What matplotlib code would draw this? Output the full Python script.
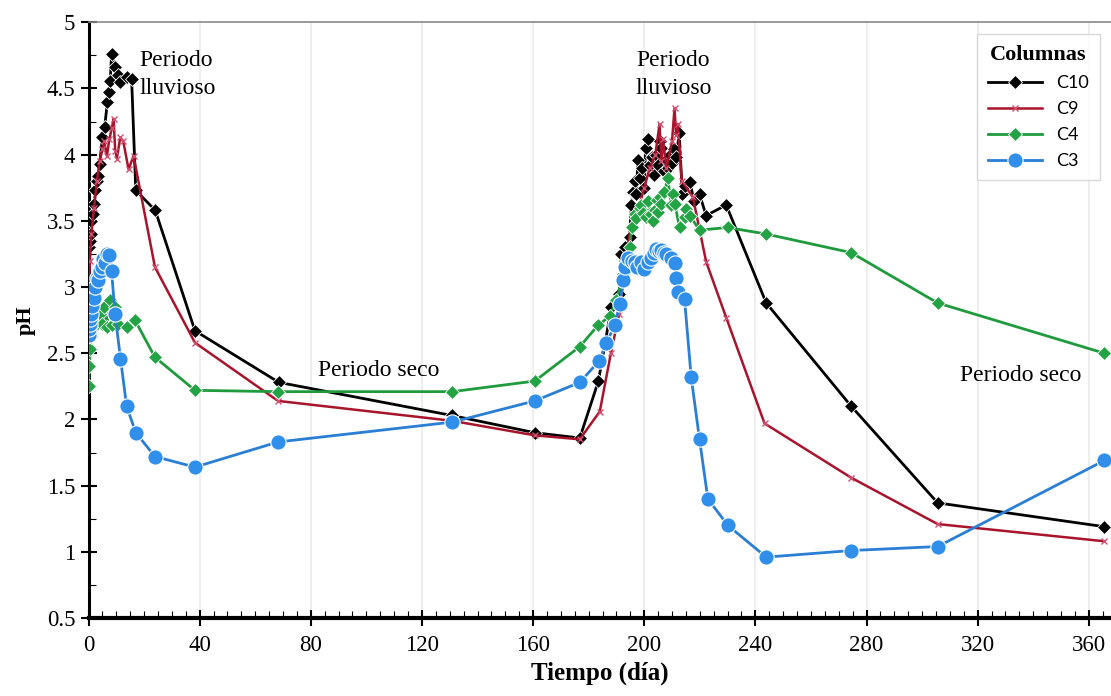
import matplotlib
matplotlib.use("Agg")
import matplotlib.pyplot as plt
from matplotlib.ticker import MultipleLocator, FuncFormatter

# ---------------- data ----------------
c10_day = [0, 0.3, 0.5, 0.8, 1.0, 1.5, 2.0, 2.5, 3.0, 3.5, 4.0, 5.0, 5.8, 6.8, 7.2, 7.8, 8.3, 9.5,
           10.5, 11.3, 13.7, 15.5, 17.0, 24.0, 38.3, 68.5, 130.8, 160.6, 176.8, 183.5, 188.2, 191.0,
           191.8, 193.0, 194.7, 195.4, 196.0, 196.6, 197.2, 197.7, 198.5, 199.3, 200.0, 200.5, 201.3,
           202.0, 202.7, 203.4, 204.2, 204.9, 205.5, 206.2, 207.0, 207.8, 208.5, 209.2, 210.0, 210.8,
           211.5, 212.6, 213.7, 214.5, 216.4, 218.0, 219.9, 222.3, 229.5, 243.9, 274.5, 305.6, 365.6]
c10_ph = [2.98, 3.30, 3.35, 3.40, 3.50, 3.55, 3.63, 3.73, 3.80, 3.84, 3.93, 4.13, 4.21, 4.40, 4.47, 4.56,
          4.76, 4.66, 4.60, 4.55, 4.59, 4.57, 3.73, 3.58, 2.67, 2.28, 2.03, 1.90, 1.86, 2.29, 2.85, 2.95,
          3.25, 3.30, 3.38, 3.62, 3.72, 3.80, 3.70, 3.96, 3.82, 3.90, 3.75, 4.05, 4.12,
          3.92, 3.98, 3.85, 4.00, 3.92, 4.10, 4.05, 3.88, 3.96, 3.90, 4.00, 3.94, 4.04,
          3.98, 4.16, 3.70, 3.76, 3.79, 3.65, 3.70, 3.54, 3.62, 2.88, 2.10, 1.37, 1.19]

c9_day = [0, 0.5, 1.0, 2.0, 3.0, 4.0, 5.0, 5.6, 6.6, 7.5, 8.4, 9.0, 9.6, 10.2, 11.4, 12.5, 14.4, 16.2,
          23.9, 38.3, 68.2, 130.8, 160.6, 176.8, 184.0, 188.0, 191.0, 194.0, 196.0, 198.0, 200.0,
          202.0, 204.0, 205.5, 206.2, 206.7, 208.0, 210.0, 210.9, 211.5, 212.1, 213.5, 217.5, 222.3,
          229.5, 243.3, 274.5, 305.6, 365.6]
c9_ph = [2.95, 3.20, 3.40, 3.60, 3.80, 3.95, 4.04, 4.10, 3.99, 4.12, 4.20, 4.27, 4.03, 3.97, 4.13, 4.10,
         3.89, 3.99, 3.15, 2.58, 2.14, 1.99, 1.88, 1.85, 2.06, 2.50, 2.80, 3.30, 3.55, 3.60, 3.75,
         3.90, 4.00, 4.23, 3.95, 4.12, 3.90, 4.10, 4.35, 4.15, 4.23, 3.80, 3.68, 3.19,
         2.77, 1.97, 1.56, 1.21, 1.08]

c4_day = [0, 0.3, 0.6, 1.0, 2.0, 3.0, 4.0, 4.7, 5.5, 6.5, 7.7, 8.3, 9.5, 10.5, 13.7, 16.7, 23.9, 38.3,
          68.2, 130.9, 160.6, 176.8, 183.3, 187.6, 190.0, 192.5, 194.8, 195.5, 196.5, 197.2, 198.3,
          199.0, 199.6, 200.8, 201.5, 202.3, 203.1, 203.7, 204.5, 205.0, 205.5, 206.2, 207.2, 208.5,
          209.7, 210.3, 211.0, 212.7, 214.5, 215.1, 216.4, 219.9, 230.0, 244.0, 274.5, 305.6, 365.6]
c4_ph = [2.25, 2.40, 2.53, 2.62, 2.70, 2.75, 2.80, 2.72, 2.85, 2.70, 2.90, 2.71, 2.85, 2.72, 2.70, 2.75,
         2.47, 2.22, 2.21, 2.21, 2.29, 2.55, 2.71, 2.78, 2.90, 3.10, 3.30, 3.45, 3.55, 3.52, 3.60,
         3.62, 3.56, 3.53, 3.65, 3.55, 3.50, 3.58, 3.66, 3.57, 3.68, 3.63, 3.72, 3.82,
         3.62, 3.70, 3.63, 3.45, 3.53, 3.59, 3.54, 3.43, 3.45, 3.40, 3.26, 2.88, 2.50]

c3_day = [0, 0.2, 0.4, 0.6, 0.8, 1.1, 1.5, 2.0, 2.5, 2.9, 3.5, 4.0, 4.7, 5.3, 6.0, 6.5, 7.3, 8.3, 9.5,
          11.5, 13.7, 17.0, 23.9, 38.3, 68.2, 130.9, 160.6, 176.8, 183.7, 186.4, 189.4, 191.2, 192.5,
          193.0, 194.2, 195.5, 196.5, 197.5, 199.0, 200.0, 201.3, 202.5, 203.5, 204.4, 205.3, 206.2,
          207.0, 208.0, 209.5, 211.0, 211.5, 212.1, 214.5, 216.9, 219.9, 222.9, 230.1, 243.9, 274.5,
          305.6, 365.6]
c3_ph = [2.64, 2.68, 2.72, 2.76, 2.80, 2.86, 2.95, 2.92, 3.00, 3.07, 3.05, 3.12, 3.15, 3.21, 3.18, 3.25,
         3.24, 3.12, 2.80, 2.46, 2.10, 1.90, 1.72, 1.64, 1.83, 1.98, 2.14, 2.28, 2.44, 2.58, 2.71, 2.87,
         3.05, 3.15, 3.22, 3.20, 3.19, 3.15, 3.19, 3.14, 3.19, 3.22, 3.26, 3.29, 3.27, 3.28,
         3.26, 3.25, 3.22, 3.18, 3.07, 2.96, 2.91, 2.32, 1.85, 1.40, 1.20, 0.96, 1.01,
         1.04, 1.69]

x_ticks = [0, 40, 80, 120, 160, 200, 240, 280, 320, 360]
y_ticks = [0.5, 1, 1.5, 2, 2.5, 3, 3.5, 4, 4.5, 5]

# ---------------- figure ----------------
plt.rcParams['font.family'] = ['Liberation Serif', 'DejaVu Serif']
fig = plt.figure(figsize=(11.11, 6.96), dpi=100)
ax = fig.add_axes([0.0797, 0.112, 0.9203, 0.856])

ax.plot(c10_day, c10_ph, color='black', lw=2, marker='D', ms=7.5, mfc='black', mec='white',
        mew=0.6, label='C10', zorder=3)
ax.plot(c9_day, c9_ph, color='#a8142c', lw=1.8, marker='x', ms=5, mec='#d05070', mew=1.0,
        label='C9', zorder=4)
ax.plot(c4_day, c4_ph, color='#1f9a3c', lw=2, marker='D', ms=7.5, mfc='#22a444', mec='white',
        mew=0.6, label='C4', zorder=5)
ax.plot(c3_day, c3_ph, color='#2a7fd4', lw=2, marker='o', ms=11, mfc='#2f8fea', mec='white',
        mew=0.8, label='C3', zorder=6)

ax.set_xlim(0, 368)
ax.set_ylim(0.5, 5)
ax.set_xticks(x_ticks)
ax.set_yticks(y_ticks)
ax.yaxis.set_major_formatter(FuncFormatter(lambda v, p: '%g' % v))
ax.xaxis.set_minor_locator(MultipleLocator(5))
ax.yaxis.set_minor_locator(MultipleLocator(0.25))
ax.tick_params(axis='both', which='major', direction='inout', length=12, width=1.5,
               labelsize=16.5, colors='black')
ax.tick_params(axis='both', which='minor', direction='in', length=5, width=0.8)
ax.tick_params(axis='x', which='major', pad=6)

ax.grid(axis='x', which='major', color='#ebebeb', lw=1.2)
ax.set_axisbelow(True)

ax.spines['right'].set_visible(False)
ax.spines['top'].set_color('#8a8a8a')
ax.spines['top'].set_linewidth(1.2)
ax.spines['left'].set_linewidth(2.2)
ax.spines['bottom'].set_linewidth(3)

ax.set_xlabel('Tiempo (día)', fontsize=18, fontweight='bold', labelpad=4)
ax.set_ylabel('pH', fontsize=16, fontweight='bold', labelpad=8)

ax.text(18.2, 4.71, 'Periodo', fontsize=17, va='center', ha='left')
ax.text(18.2, 4.50, 'lluvioso', fontsize=17, va='center', ha='left')
ax.text(197.0, 4.71, 'Periodo', fontsize=17, va='center', ha='left')
ax.text(197.0, 4.50, 'lluvioso', fontsize=17, va='center', ha='left')
ax.text(82.5, 2.37, 'Periodo seco', fontsize=17, va='center', ha='left')
ax.text(313.5, 2.33, 'Periodo seco', fontsize=17, va='center', ha='left')

leg = ax.legend(loc='upper right', bbox_to_anchor=(0.998, 0.995), frameon=True, fancybox=False,
                edgecolor='#d0d0d0', prop={'family': 'Lato', 'size': 13},
                title='Columnas', title_fontproperties={'family': 'Liberation Serif',
                                                        'weight': 'bold', 'size': 16},
                handlelength=3.0, labelspacing=0.55, borderpad=0.6)
leg.get_frame().set_linewidth(1.0)

fig.savefig('out.png', dpi=100)
